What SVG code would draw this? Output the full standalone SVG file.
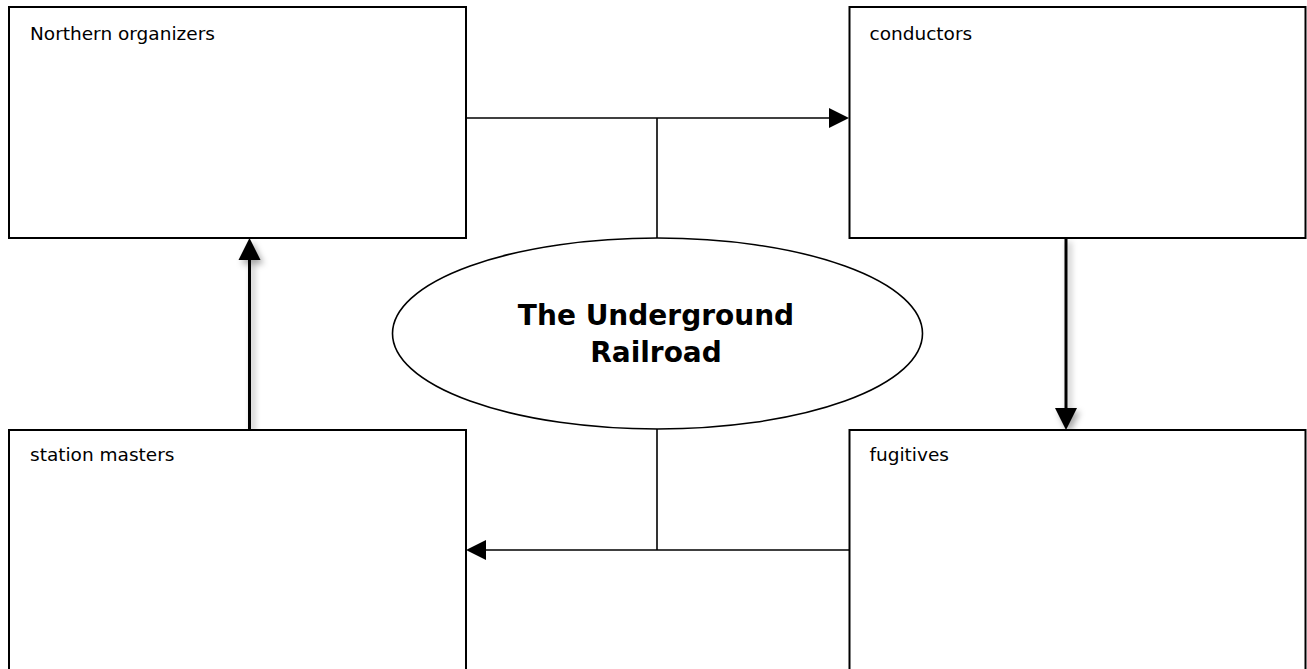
<svg xmlns="http://www.w3.org/2000/svg" width="1307" height="669" viewBox="0 0 1307 669">
<style>
.box{fill:#fff;stroke:#000;stroke-width:2}
.lbl{font-family:"DejaVu Sans","Verdana",sans-serif;font-size:18.5px;fill:#000}
.title{font-family:"DejaVu Sans","Verdana",sans-serif;font-size:28px;font-weight:bold;fill:#000;text-anchor:middle}
.thin{fill:none;stroke:#000;stroke-width:1.6}
.thick{fill:none;stroke:#000;stroke-width:3}
</style>
<defs>
<filter id="sh" x="-50%" y="-20%" width="200%" height="140%">
<feDropShadow dx="3" dy="4" stdDeviation="3" flood-color="#000" flood-opacity="0.35"/>
</filter>
</defs>
<rect width="1307" height="669" fill="#fff"/>
<g id="connectors">
<line class="thin" x1="466" y1="118" x2="830" y2="118"/>
<polygon points="849,118 829,108 829,128" fill="#000"/>
<line class="thin" x1="657" y1="118" x2="657" y2="238"/>
<line class="thin" x1="849" y1="550" x2="485" y2="550"/>
<polygon points="466,550 486,540 486,560" fill="#000"/>
<line class="thin" x1="657" y1="429" x2="657" y2="550"/>
<g filter="url(#sh)">
<line class="thick" x1="249.5" y1="430" x2="249.5" y2="255"/>
<polygon points="249.5,238 238.5,260 260.5,260" fill="#000"/>
<line class="thick" x1="1066" y1="238" x2="1066" y2="412"/>
<polygon points="1066,430 1055,408 1077,408" fill="#000"/>
</g>
</g>
<g id="northern-organizers">
<rect class="box" x="9" y="7" width="457" height="231"/>
<text class="lbl" x="30" y="39.5">Northern organizers</text>
</g>
<g id="conductors">
<rect class="box" x="849.5" y="7" width="456" height="231"/>
<text class="lbl" x="869.5" y="39.5">conductors</text>
</g>
<g id="station-masters">
<rect class="box" x="9" y="430" width="457" height="260"/>
<text class="lbl" x="30" y="461">station masters</text>
</g>
<g id="fugitives">
<rect class="box" x="849.5" y="430" width="456" height="260"/>
<text class="lbl" x="869.5" y="461">fugitives</text>
</g>
<g id="underground-railroad">
<ellipse cx="657.5" cy="333.5" rx="265" ry="95.5" fill="#fff" stroke="#000" stroke-width="1.6"/>
<text class="title" x="656" y="325">The Underground</text>
<text class="title" x="656" y="362">Railroad</text>
</g>
</svg>
